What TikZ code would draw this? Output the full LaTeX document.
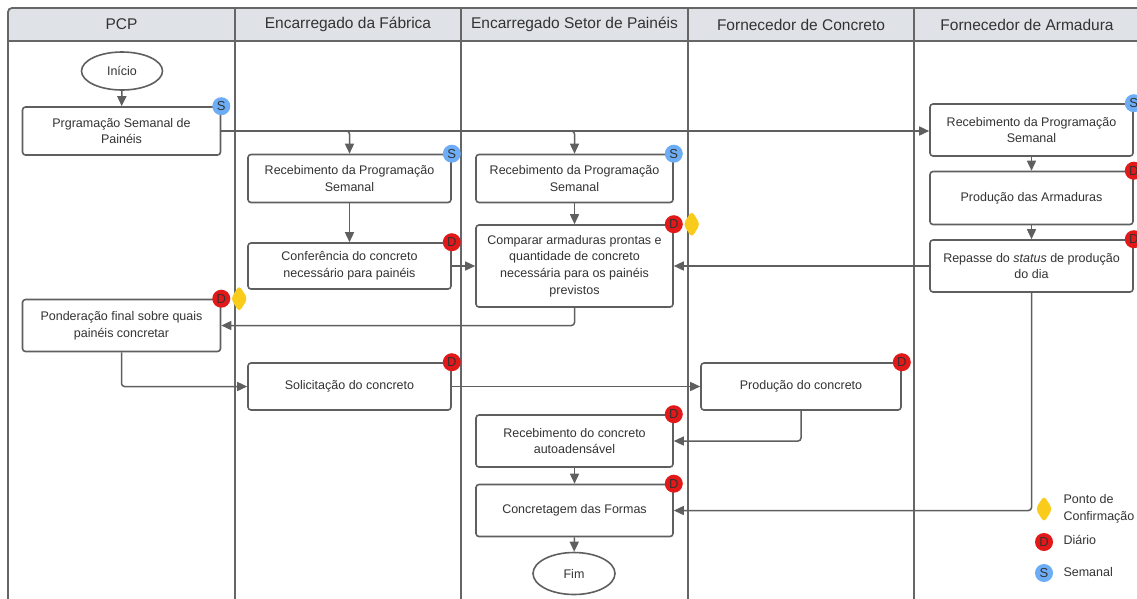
\documentclass[tikz,border=0pt]{standalone}
\usepackage{fontspec}
\setmainfont{Liberation Sans}
\usetikzlibrary{shapes.geometric, arrows.meta, positioning, calc}

\definecolor{lanegray}{HTML}{666666}
\definecolor{linegray}{HTML}{5F5F5F}
\definecolor{headgray}{HTML}{DFE2E7}
\definecolor{txtgray}{HTML}{333333}
\definecolor{dailyred}{HTML}{E31919}
\definecolor{weekblue}{HTML}{6CADF6}
\definecolor{confyellow}{HTML}{F9CC1B}

\tikzset{
  lane/.style={draw=lanegray, line width=1.8pt},
  lanehead/.style={text=txtgray, font=\fontsize{15.5}{18}\selectfont},
  proc/.style={draw=linegray, line width=1.6pt, rounded corners=3pt, fill=white,
    align=center, text=txtgray, inner sep=0pt,
    font=\fontsize{12.5}{16.7}\selectfont},
  term/.style={ellipse, draw=linegray, line width=1.6pt, fill=white, inner sep=0pt,
    text=txtgray, font=\fontsize{12.5}{15}\selectfont},
  flow/.style={draw=linegray, line width=1.5pt, rounded corners=3pt,
    -{Triangle[length=10pt,width=9pt]}},
  badge/.style={circle, minimum size=18pt, inner sep=0pt, text=black!80,
    font=\fontsize{13}{13}\selectfont},
  daily/.style={badge, fill=dailyred},
  weekly/.style={badge, fill=weekblue},
  confirm/.style={diamond, fill=confyellow, minimum width=17pt, minimum height=27pt,
    inner sep=0pt, rounded corners=4pt},
  legendtxt/.style={anchor=west, align=left, text=txtgray,
    font=\fontsize{12.5}{16.7}\selectfont},
}

\begin{document}
\begin{tikzpicture}[x=1pt, y=-1pt]
\useasboundingbox (0,0) rectangle (1137,598);

% swimlanes
\begin{scope}
\clip (0,0) rectangle (1137,598);
\fill[headgray] (8,8) rectangle (1150,41);
\draw[lane, rounded corners=4pt] (8,620) -- (8,8) -- (1150,8);
\draw[lane] (8,41) -- (1150,41);
\foreach \x in {235,461,688,914} {
    \draw[lane] (\x,8) -- (\x,620);
}
\end{scope}
\node[lanehead] (hpcp) at (121.5,24.5) {PCP};
\node[lanehead] (hfab) at (348,24.5) {Encarregado da Fábrica};
\node[lanehead] (hset) at (574.5,24.5) {Encarregado Setor de Painéis};
\node[lanehead] (hcon) at (801,24.5) {Fornecedor de Concreto};
\node[lanehead] (harm) at (1027,24.5) {Fornecedor de Armadura};

% PCP
\node[term, minimum width=81pt, minimum height=38pt] (inicio) at (122,71) {Início};
\node[proc, minimum width=198pt, minimum height=48pt] (prog) at (121.5,131) {Prgramação Semanal de\\Painéis};
\node[proc, minimum width=198pt, minimum height=52pt] (pond) at (121.5,325.5) {Ponderação final sobre quais\\painéis concretar};

% Encarregado da Fabrica
\node[proc, minimum width=203pt, minimum height=48pt] (recfab) at (349.5,178.5) {Recebimento da Programação\\Semanal};
\node[proc, minimum width=203pt, minimum height=46pt] (conf) at (349.5,266) {Conferência do concreto\\necessário para painéis};
\node[proc, minimum width=203pt, minimum height=47pt] (solic) at (349.5,386.5) {Solicitação do concreto};

% Encarregado Setor de Paineis
\node[proc, minimum width=197pt, minimum height=48pt] (recset) at (574.5,178.5) {Recebimento da Programação\\Semanal};
\node[proc, minimum width=197pt, minimum height=82pt] (comp) at (574.5,266) {Comparar armaduras prontas e\\quantidade de concreto\\necessária para os painéis\\previstos};
\node[proc, minimum width=197pt, minimum height=52pt] (recconc) at (574.5,441) {Recebimento do concreto\\autoadensável};
\node[proc, minimum width=197pt, minimum height=52pt] (concr) at (574.5,510.5) {Concretagem das Formas};
\node[term, minimum width=82pt, minimum height=42pt] (fim) at (574,573.5) {Fim};

% Fornecedor de Concreto
\node[proc, minimum width=200pt, minimum height=47pt] (prodconc) at (801,386.5) {Produção do concreto};

% Fornecedor de Armadura
\node[proc, minimum width=203pt, minimum height=52pt] (recarm) at (1031.5,130) {Recebimento da Programação\\Semanal};
\node[proc, minimum width=203pt, minimum height=53pt] (prodarm) at (1031.5,198) {Produção das Armaduras};
\node[proc, minimum width=203pt, minimum height=52pt] (repasse) at (1031.5,266) {Repasse do \textit{status} de produção\\do dia};

% frequency badges
\node[weekly] (sprog) at (prog.north east) {S};
\node[weekly] (srecfab) at (recfab.north east) {S};
\node[weekly] (srecset) at (recset.north east) {S};
\node[weekly] (srecarm) at (recarm.north east) {S};
\node[daily] (dprodarm) at (prodarm.north east) {D};
\node[daily] (drepasse) at (repasse.north east) {D};
\node[daily] (dconf) at (conf.north east) {D};
\node[daily] (dcomp) at (comp.north east) {D};
\node[daily] (dpond) at (pond.north east) {D};
\node[daily] (dsolic) at (solic.north east) {D};
\node[daily] (dprodconc) at (prodconc.north east) {D};
\node[daily] (drecconc) at (recconc.north east) {D};
\node[daily] (dconcr) at (concr.north east) {D};
\node[confirm, right=0pt of dcomp] (ccomp) {};
\node[confirm, right=0pt of dpond] (cpond) {};

% flow
\draw[flow] (inicio) -- (prog);
\draw[flow] (prog.east) -| (recfab.north);
\draw[flow] (prog.east) -| (recset.north);
\draw[flow] (prog.east) -- (prog.east -| recarm.west);
\draw[flow] (recfab) -- (conf);
\draw[flow] (recset) -- (comp);
\draw[flow] (recarm) -- (prodarm);
\draw[flow] (prodarm) -- (repasse);
\draw[flow] (conf) -- (comp);
\draw[flow] (repasse) -- (comp);
\draw[flow] (comp.south) |- (pond.east);
\draw[flow] (pond.south) |- (solic.west);
\draw[flow] (solic) -- (prodconc);
\draw[flow] (prodconc.south) |- (recconc.east);
\draw[flow] (recconc) -- (concr);
\draw[flow] (repasse.south) |- (concr.east);
\draw[flow] (concr) -- (fim);

% legend
\node[confirm] (lconf) at (1044,509) {};
\node[legendtxt] (lconftxt) at (1060,509) {Ponto de\\Confirmação};
\node[daily] (ldaily) at (1044,542) {D};
\node[legendtxt] (ldailytxt) at (1060,540) {Diário};
\node[weekly] (lweekly) at (1044,573) {S};
\node[legendtxt] (lweeklytxt) at (1060,572) {Semanal};
\end{tikzpicture}
\end{document}
